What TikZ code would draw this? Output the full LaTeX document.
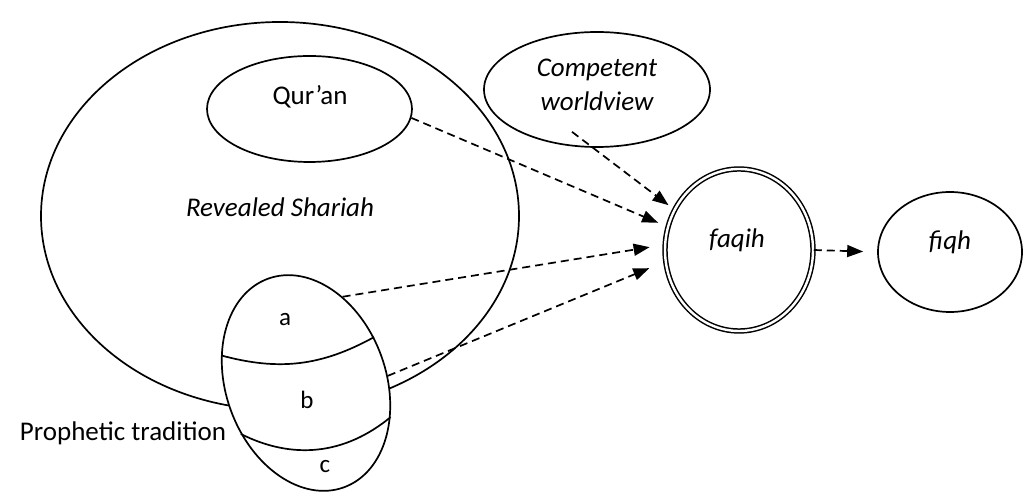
\documentclass[tikz,border=0pt]{standalone}
\usepackage{fontspec}
\setmainfont{Carlito}
\usetikzlibrary{shapes.geometric, arrows.meta}

\begin{document}
\begin{tikzpicture}[
    x=1pt, y=1pt,
    font=\fontsize{27}{34}\selectfont,
    blob/.style={draw, ellipse, line width=1.7pt, inner sep=0pt},
    dblob/.style={draw, ellipse, line width=1.5pt, double, double distance=2.4pt, inner sep=0pt},
    darr/.style={-{Triangle[length=16pt, width=12pt]}, line width=1.7pt, dash pattern=on 8pt off 5pt},
    lbl/.style={inner sep=0pt, align=center},
    hand/.style={inner sep=0pt, font=\fontsize{25}{28}\selectfont}
]
\useasboundingbox (0,0) rectangle (1027,497);

\node[blob, minimum width=478, minimum height=388] (shariah) at (280, 281) {};
\node[blob, minimum width=205, minimum height=106] (quran)   at (309.5, 388) {};
\node[blob, minimum width=226, minimum height=115] (world)   at (597, 407.5) {};
\node[dblob, minimum width=148, minimum height=162] (faqih)  at (739, 247) {};
\node[blob, minimum width=144, minimum height=120] (fiqh)    at (950, 245) {};

% Prophetic tradition, lying over the lower rim
\node[blob, fill=white, rotate=20, minimum width=160, minimum height=222] (trad) at (306, 114) {};
\draw[line width=1.7pt] (trad.142) to[bend right=22] (trad.14);
\draw[line width=1.7pt] (trad.198) to[bend right=33] (trad.318);

\node[lbl] (quran-txt)   at (310, 400)   {Qur'an};
\node[lbl] (shariah-txt) at (280, 290)   {\itshape Revealed Shariah};
\node[lbl] (world-txt)   at (597, 412)   {\itshape Competent\\\itshape worldview};
\node[lbl] (faqih-txt)   at (737, 257)   {\itshape faqih};
\node[lbl] (fiqh-txt)    at (950, 255)   {\itshape fiqh};
\node[lbl] (trad-txt)    at (123, 64)    {Prophetic tradition};
\node[hand] (part-a) at (285, 177) {a};
\node[hand] (part-b) at (307, 97)  {b};
\node[hand] (part-c) at (325, 30)  {c};

% sources --> faqih
\draw[darr, shorten >=7pt]  ([shift={(-25,16)}]world.south) -- (faqih.148);
\draw[darr, shorten >=10pt] (quran.-5) -- (faqih.162);
\draw[darr, shorten >=15pt] (trad.47)  -- (faqih.176);
\draw[darr, shorten >=17pt] (trad.-15) -- (faqih.189);

% faqih --> fiqh
\draw[darr, shorten >=14pt] (faqih.east) -- (fiqh.west);

\end{tikzpicture}
\end{document}
